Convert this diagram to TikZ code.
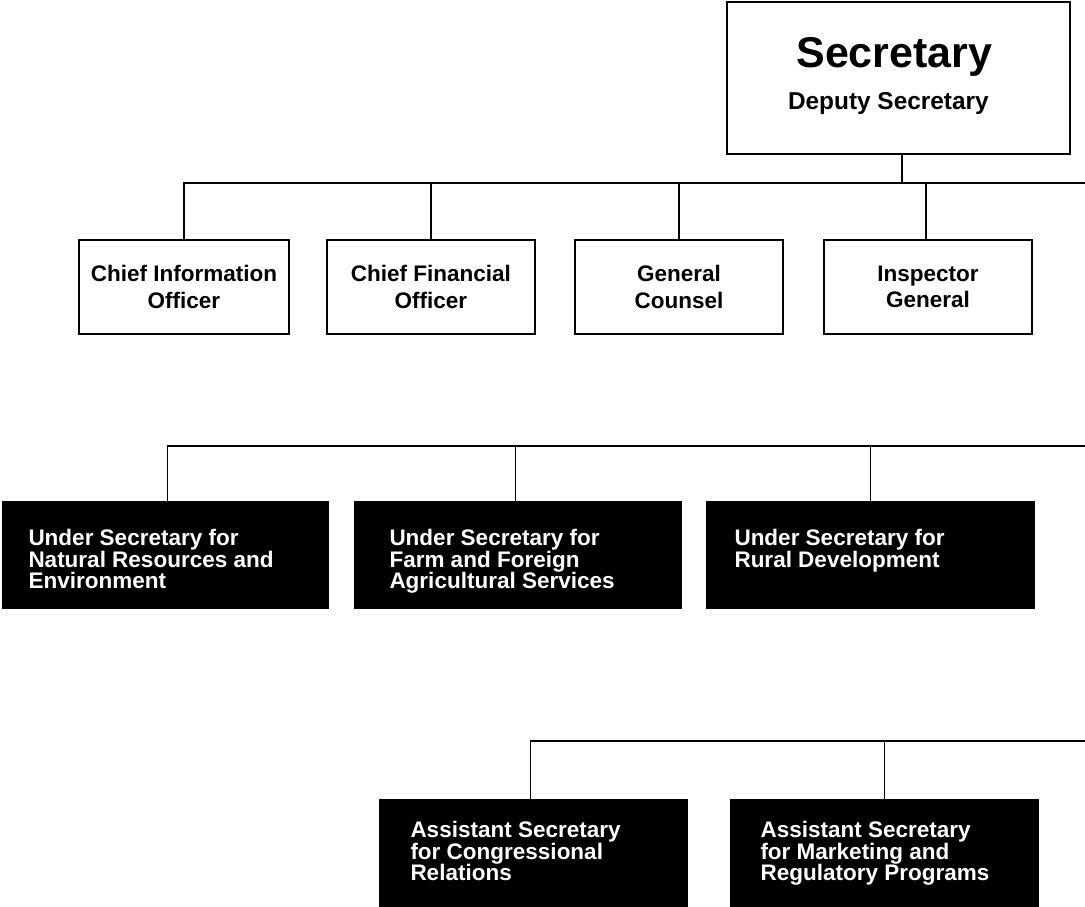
\documentclass[tikz,border=0pt]{standalone}
\usepackage{fontspec}
\setmainfont{Liberation Sans}
\newcommand{\bbtext}[5]{\parbox[c][#2][t]{#1}{\fontsize{22.5}{21.5}\selectfont\bfseries\raggedright\leftskip=#3\relax\parindent=0pt\relax\rule{0pt}{#4}#5\par}}
\tikzset{
  wbox/.style={draw=black, line width=1.8pt, fill=white, rectangle, inner sep=0pt, anchor=north west, align=center, font=\bfseries\fontsize{22.5}{26.5}\selectfont},
  sbox/.style={draw=black, line width=1.8pt, fill=white, rectangle, inner sep=0pt, anchor=north west},
  bbox/.style={draw=black, fill=black, line width=1pt, rectangle, inner sep=0pt, anchor=north west, text=white},
  conn/.style={line width=1.8pt},
}
\begin{document}
\lineskiplimit=-100pt\relax
\begin{tikzpicture}[x=1pt,y=-1pt]
\useasboundingbox (0,0) rectangle (1085,907);
% top
\node[sbox] (sec) at (726,1) {\parbox[c][152pt][t]{343pt}{\centering\bfseries\fontsize{43}{43}\selectfont\rule{0pt}{66pt}\hspace*{-8pt}Secretary\par\fontsize{24.4}{42}\selectfont\hspace*{-20pt}Deputy Secretary\par}};
% row 1
\node[wbox, minimum width=210, minimum height=94] (cio) at (78,239) {Chief Information\\Officer};
\node[wbox, minimum width=208, minimum height=94] (cfo) at (326,239) {Chief Financial\\Officer};
\node[wbox, minimum width=208, minimum height=94] (gc) at (574,239) {General\\Counsel};
\node[wbox, minimum width=208, minimum height=94] (ig) at (823,239) {Inspector\\General};
% row 2
\node[bbox] (nre) at (2,501) {\bbtext{326pt}{107pt}{26pt}{44pt}{Under Secretary for\\Natural Resources and\\Environment}};
\node[bbox] (ffas) at (354,501) {\bbtext{327pt}{107pt}{35pt}{44pt}{Under Secretary for\\Farm and Foreign\\Agricultural Services}};
\node[bbox] (rd) at (706,501) {\bbtext{328pt}{107pt}{28pt}{44pt}{Under Secretary for\\Rural Development}};
% row 3
\node[bbox] (cr) at (379,799) {\bbtext{308pt}{107pt}{31pt}{38pt}{Assistant Secretary\\for Congressional\\Relations}};
\node[bbox] (mrp) at (730,799) {\bbtext{308pt}{107pt}{30pt}{38pt}{Assistant Secretary\\for Marketing and\\Regulatory Programs}};
% buses
\coordinate (b1) at (1085,183);
\coordinate (b2) at (1085,446);
\coordinate (b3) at (1085,741);
\draw[conn] ([xshift=3.5pt]sec.south) -- ([xshift=3.5pt]sec.south |- b1);
\draw[conn] (cio.north) |- (b1);
\draw[conn] (cfo.north) -- (cfo.north |- b1);
\draw[conn] (gc.north) -- (gc.north |- b1);
\draw[conn] ([xshift=-2pt]ig.north) -- ([xshift=-2pt]ig.north |- b1);
\draw[conn] ([xshift=2pt]nre.north) |- (b2);
\draw[conn] ([xshift=-2.5pt]ffas.north) -- ([xshift=-2.5pt]ffas.north |- b2);
\draw[conn] (rd.north) -- (rd.north |- b2);
\draw[conn] ([xshift=-3pt]cr.north) |- (b3);
\draw[conn] (mrp.north) -- (mrp.north |- b3);
\end{tikzpicture}
\end{document}
